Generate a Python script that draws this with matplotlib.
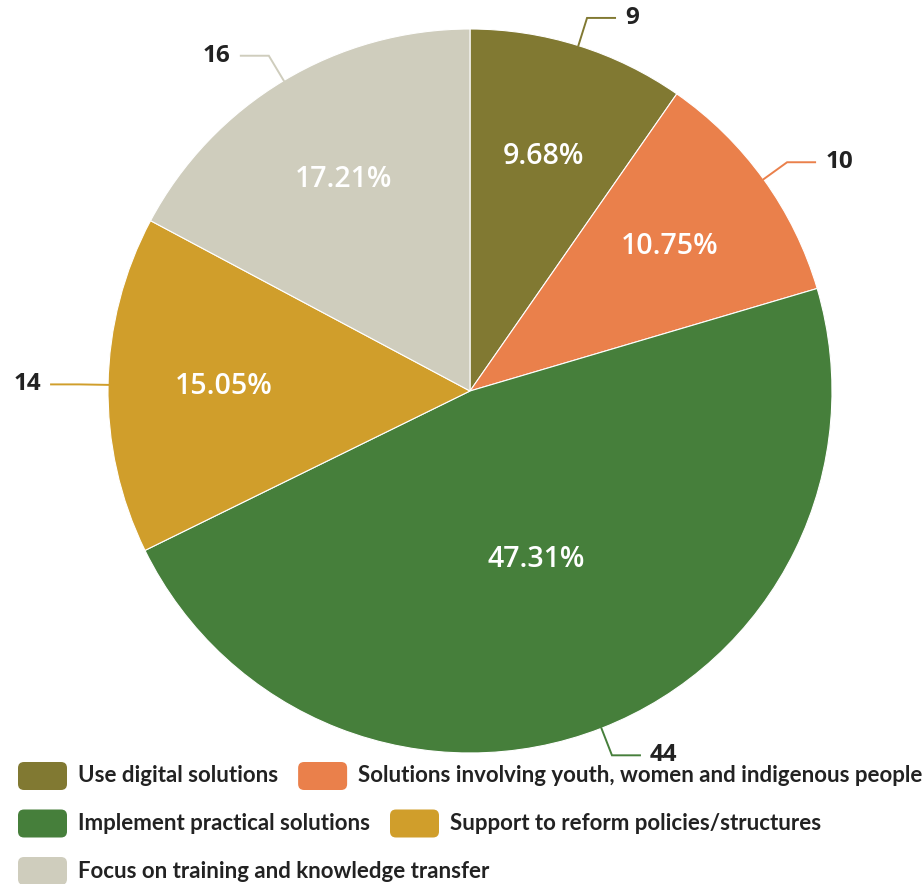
import numpy as np
import matplotlib
matplotlib.use("Agg")
import matplotlib.pyplot as plt
from matplotlib.patches import FancyBboxPatch

# chart data
categories = ["Use digital solutions",
              "Solutions involving youth, women and indigenous people",
              "Implement practical solutions",
              "Support to reform policies/structures",
              "Focus on training and knowledge transfer"]
counts = [9, 10, 44, 14, 16]
# shares as printed on the slices (rounded to total 100)
shares = [9.68, 10.75, 47.31, 15.05, 17.21]
colors = ["#817932", "#EA804B", "#467F3B", "#D09E2B", "#CFCDBD"]
# legend rows, as in the reference (indices into categories)
legend_rows = [[0, 1], [2, 3], [4]]

W, H = 924, 884
fig = plt.figure(figsize=(W / 100, H / 100), dpi=100)
ax = fig.add_axes([0, 0, 1, 1])

cx, cy, rad = 470, H - 391, 362

wedges, _ = ax.pie(counts, colors=colors, startangle=90, counterclock=False,
                   center=(cx, cy), radius=rad,
                   wedgeprops=dict(edgecolor="white", linewidth=0.8))

for k, (w, n, s) in enumerate(zip(wedges, counts, shares)):
    a = np.deg2rad((w.theta1 + w.theta2) / 2)
    dx, dy = np.cos(a), np.sin(a)

    # percentage inside the slice; the big one sits nearer the centre
    f = 0.5 if n == max(counts) else 0.68
    ax.text(cx + f * rad * dx, cy + f * rad * dy, f"{s:.2f}%", ha="center",
            va="center", color="white", fontsize=20.5, family="Open Sans",
            weight="semibold")

    # leader line with the raw count
    x0, y0 = cx + rad * dx, cy + rad * dy
    x1, y1 = cx + (rad + 29) * dx, cy + (rad + 29) * dy
    side = 1 if dx >= 0 else -1
    x2 = x1 + side * 28
    ax.plot([x0, x1, x2], [y0, y1, y1], color=w.get_facecolor(), lw=1.4,
            solid_joinstyle="miter")
    ax.text(x2 + side * 10, y1, str(n), ha="left" if side > 0 else "right",
            va="center", fontsize=17.5, family="Open Sans", weight="bold",
            color="#222222")

ax.set_xlim(0, W)
ax.set_ylim(0, H)
ax.set_aspect("equal")
ax.axis("off")

# legend, laid out row by row like the original
renderer = fig.canvas.get_renderer()
row_y = [H - 776, H - 823.5, H - 871]
for ry, row in zip(row_y, legend_rows):
    x = 18
    for i in row:
        box = FancyBboxPatch((x, ry - 14), 49, 28,
                             boxstyle="round,pad=0,rounding_size=6",
                             facecolor=colors[i], edgecolor="none")
        ax.add_patch(box)
        t = ax.text(x + 60, ry, categories[i], ha="left", va="center",
                    fontsize=16, family="Lato", weight="bold", color="#222222")
        bb = t.get_window_extent(renderer)
        x = x + 60 + bb.width + 20

fig.savefig("out.png", dpi=100)
